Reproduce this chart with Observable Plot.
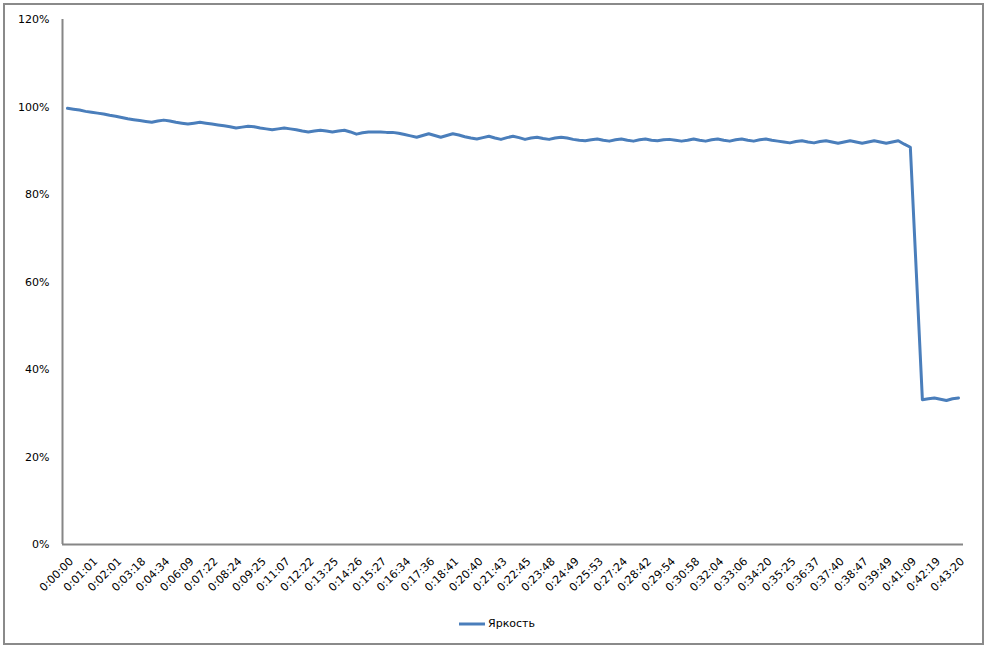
<!DOCTYPE html>
<html>
<head>
<meta charset="utf-8">
<script src="https://cdn.jsdelivr.net/npm/d3@7"></script>
<script src="https://cdn.jsdelivr.net/npm/@observablehq/plot@0.6"></script>
<style>
  html, body { margin: 0; padding: 0; background: #fff; }
  #frame { position: absolute; left: 3px; top: 3px; width: 977px; height: 638px; border: 2px solid #8a8a8a; }
  #chart { position: absolute; left: 0; top: 0; }
  #legend { position: absolute; left: 458px; top: 617px; font-family: "DejaVu Sans", sans-serif; font-size: 11px; color: #000; display: flex; align-items: center; }
  #legend svg { margin-right: 2px; }
</style>
</head>
<body>
<div id="frame"></div>
<div id="chart"></div>
<div id="legend"></div>
<script>
const seriesName = "Яркость";

const timeLabels = [
  "0:00:00", "0:01:01", "0:02:01", "0:03:18", "0:04:34", "0:06:09", "0:07:22", "0:08:24",
  "0:09:25", "0:11:07", "0:12:22", "0:13:25", "0:14:26", "0:15:27", "0:16:34", "0:17:36",
  "0:18:41", "0:20:40", "0:21:43", "0:22:45", "0:23:48", "0:24:49", "0:25:53", "0:27:24",
  "0:28:42", "0:29:54", "0:30:58", "0:32:04", "0:33:06", "0:34:20", "0:35:25", "0:36:37",
  "0:37:40", "0:38:47", "0:39:49", "0:41:09", "0:42:19", "0:43:20"
];

const yTicks = [0, 0.2, 0.4, 0.6, 0.8, 1.0, 1.2];

// brightness, percent (4 samples per labelled interval)
const brightness = [
  99.7, 99.5, 99.3, 99.0, 98.8, 98.6, 98.4, 98.1, 97.9, 97.6,
  97.3, 97.1, 96.9, 96.7, 96.5, 96.8, 97.0, 96.8, 96.5, 96.3,
  96.1, 96.3, 96.5, 96.3, 96.1, 95.9, 95.7, 95.5, 95.2, 95.4,
  95.6, 95.5, 95.2, 95.0, 94.8, 95.0, 95.2, 95.0, 94.8, 94.5,
  94.3, 94.5, 94.7, 94.5, 94.3, 94.5, 94.7, 94.3, 93.8, 94.1,
  94.3, 94.3, 94.3, 94.2, 94.2, 94.0, 93.7, 93.4, 93.1, 93.5,
  93.9, 93.5, 93.1, 93.5, 93.9, 93.6, 93.2, 92.9, 92.7, 93.0,
  93.3, 92.9, 92.6, 93.0, 93.3, 93.0, 92.6, 92.9, 93.1, 92.8,
  92.6, 92.9, 93.1, 92.9, 92.6, 92.4, 92.3, 92.5, 92.7, 92.4,
  92.2, 92.5, 92.7, 92.4, 92.2, 92.5, 92.7, 92.4, 92.3, 92.5,
  92.6, 92.4, 92.2, 92.4, 92.7, 92.4, 92.2, 92.5, 92.7, 92.4,
  92.2, 92.5, 92.7, 92.4, 92.2, 92.5, 92.7, 92.4, 92.2, 92.0,
  91.8, 92.1, 92.3, 92.0, 91.8, 92.1, 92.3, 92.0, 91.7, 92.0,
  92.3, 92.0, 91.7, 92.0, 92.3, 92.0, 91.7, 92.0, 92.3, 91.5,
  90.8, 62.0, 33.1, 33.3, 33.5, 33.2, 32.9, 33.3, 33.5
];

const lineColor = "#4a7ebb";
const axisColor = "#868686";

const data = brightness.map((v, i) => ({ i, v: v / 100 }));
const step = (brightness.length - 1) / (timeLabels.length - 1);
const xTicks = timeLabels.map((_, j) => j * step);

const chart = Plot.plot({
  width: 987,
  height: 600,
  marginLeft: 62,
  marginRight: 24,
  marginTop: 19,
  marginBottom: 56,
  style: { fontFamily: "DejaVu Sans, sans-serif", fontSize: "11px", color: "#000", background: "transparent" },
  x: { domain: [0, brightness.length - 1], inset: 5 },
  y: { domain: [0, 1.2] },
  marks: [
    Plot.axisY({ ticks: yTicks, tickFormat: d3.format(".0%"), tickSize: 0, tickPadding: 13, label: null, fill: "#000" }),
    Plot.axisX({ ticks: xTicks, tickFormat: i => timeLabels[Math.round(i / step)], tickRotate: -45, tickSize: 0, tickPadding: 15, dx: 4, label: null, fill: "#000" }),
    Plot.ruleY([0], { stroke: axisColor, strokeWidth: 2 }),
    Plot.ruleX([0], { stroke: axisColor, strokeWidth: 2, dx: -5 }),
    Plot.line(data, { x: "i", y: "v", stroke: lineColor, strokeWidth: 3, strokeLinejoin: "round" })
  ]
});
document.getElementById("chart").appendChild(chart);

const legend = document.getElementById("legend");
legend.innerHTML = `<svg width="28" height="8"><line x1="1" y1="4" x2="27" y2="4" stroke="${lineColor}" stroke-width="3"/></svg><span>${seriesName}</span>`;
</script>
</body>
</html>
